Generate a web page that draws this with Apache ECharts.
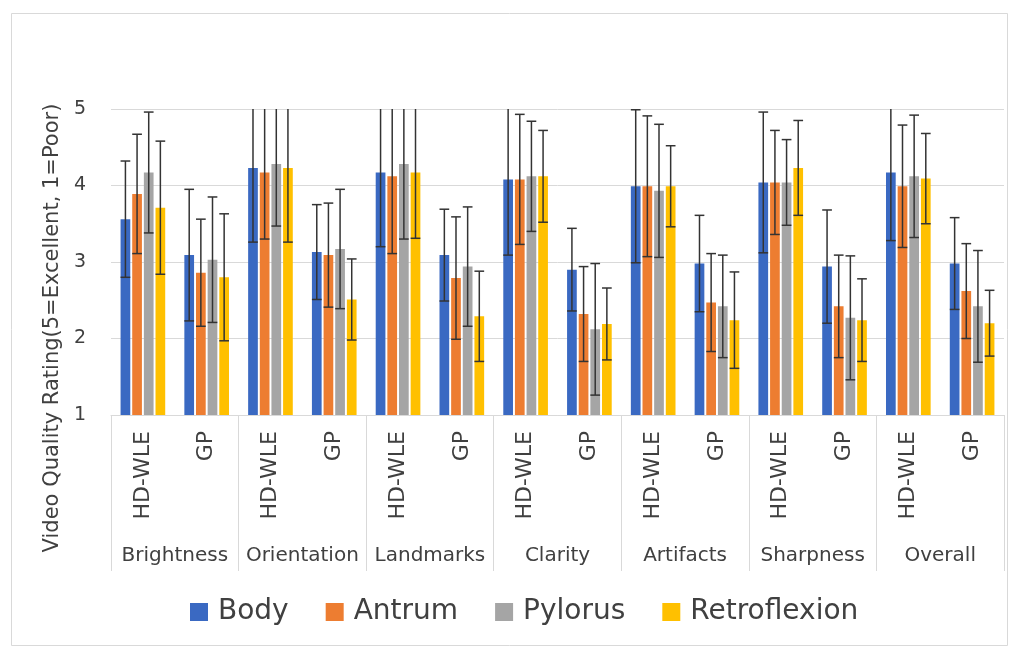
<!DOCTYPE html>
<html>
<head>
<meta charset="utf-8">
<script src="https://cdn.jsdelivr.net/npm/echarts@6/dist/echarts.min.js"></script>
<style>
html,body{margin:0;padding:0;background:#fff;}
#chart{width:1014px;height:649px;}
</style>
</head>
<body>
<div id="chart"></div>
<script>
// ---- data ----
var groups = ['Brightness','Orientation','Landmarks','Clarity','Artifacts','Sharpness','Overall'];
var subCategories = ['HD-WLE','GP','HD-WLE','GP','HD-WLE','GP','HD-WLE','GP','HD-WLE','GP','HD-WLE','GP','HD-WLE','GP'];
var seriesNames = ['Body','Antrum','Pylorus','Retroflexion'];
var yTicks = [1,2,3,4,5];

var bodyMean    = [3.56,3.09,4.23,3.13,4.17,3.09,4.08,2.90,3.99,2.98,4.04,2.94,4.17,2.98];
var bodySd      = [0.76,0.86,0.97,0.62,0.97,0.60,0.99,0.54,1.00,0.63,0.92,0.74,0.89,0.60];
var antrumMean  = [3.89,2.86,4.17,3.09,4.12,2.79,4.08,2.32,3.99,2.47,4.04,2.42,3.99,2.62];
var antrumSd    = [0.78,0.70,0.87,0.68,1.01,0.80,0.85,0.62,0.92,0.64,0.68,0.67,0.80,0.62];
var pylorusMean = [4.17,3.03,4.28,3.17,4.28,2.94,4.12,2.12,3.93,2.42,4.04,2.27,4.12,2.42];
var pylorusSd   = [0.79,0.82,0.81,0.78,0.98,0.78,0.72,0.86,0.87,0.67,0.56,0.81,0.80,0.73];
var retroMean   = [3.71,2.80,4.23,2.51,4.17,2.29,4.12,2.19,3.99,2.24,4.23,2.24,4.09,2.20];
var retroSd     = [0.87,0.83,0.97,0.53,0.86,0.59,0.60,0.47,0.53,0.63,0.62,0.54,0.59,0.43];

// ---- styling ----
var colors = ['#3a69c2','#ed7d31','#a5a5a5','#ffc000'];
var FONT = 'DejaVu Sans';
var CAT_GAP = 0.30, BAR_GAP = 0.20, N = 4;

var means = [bodyMean, antrumMean, pylorusMean, retroMean];
var sds = [bodySd, antrumSd, pylorusSd, retroSd];

var chart = echarts.init(document.getElementById('chart'));

var series = [];
seriesNames.forEach(function(name, si){
  series.push({
    type:'bar', name:name, xAxisIndex:0, yAxisIndex:0,
    data: means[si],
    barCategoryGap: (CAT_GAP*100)+'%', barGap: (BAR_GAP*100)+'%',
    itemStyle:{color:colors[si]},
    emphasis:{disabled:true}
  });
});
seriesNames.forEach(function(name, si){
  var d = means[si].map(function(m, i){ return [i, m - sds[si][i], m + sds[si][i]]; });
  series.push({
    type:'custom', name:name+' err', xAxisIndex:0, yAxisIndex:0, z:10,
    encode:{x:0, y:[1,2]},
    data:d,
    renderItem:function(params, api){
      var xi = api.value(0), lo = api.value(1), hi = api.value(2);
      var band = api.size([1,0])[0];
      var avail = band*(1-CAT_GAP);
      var bw = avail/(N + (N-1)*BAR_GAP);
      var off = -avail/2 + si*bw*(1+BAR_GAP) + bw/2;
      var pLo = api.coord([xi, lo]), pHi = api.coord([xi, hi]);
      var cs = params.coordSys;
      var x = pLo[0] + off, half = bw/2;
      var topY = pHi[1], clipped = false;
      if (topY < cs.y) { topY = cs.y; clipped = true; }
      var st = {stroke:'#333', lineWidth:1.5};
      var ch = [
        {type:'line', shape:{x1:x, y1:topY, x2:x, y2:pLo[1]}, style:st},
        {type:'line', shape:{x1:x-half, y1:pLo[1], x2:x+half, y2:pLo[1]}, style:st}
      ];
      if (!clipped) ch.push({type:'line', shape:{x1:x-half, y1:topY, x2:x+half, y2:topY}, style:st});
      return {type:'group', children:ch};
    }
  });
});

var option = {
  animation:false,
  backgroundColor:'#fff',
  grid:{left:111, right:10, top:109, bottom:234, containLabel:false},
  legend:{
    data:seriesNames, left:185, top:593, icon:'rect',
    itemWidth:18, itemHeight:18, itemGap:37,
    textStyle:{fontFamily:FONT, fontSize:28, color:'#404040', padding:[0,0,0,5]}
  },
  xAxis:[
    {
      type:'category', data:subCategories, position:'bottom',
      axisLine:{show:true, lineStyle:{color:'#d9d9d9', width:1}},
      axisTick:{show:false},
      axisLabel:{interval:0, rotate:90, margin:16, fontFamily:FONT, fontSize:22, color:'#404040'}
    },
    {
      type:'category', data:groups, position:'bottom', gridIndex:0,
      axisLine:{show:false},
      axisTick:{show:true, length:156, lineStyle:{color:'#d9d9d9', width:1}},
      axisLabel:{interval:0, margin:131, fontFamily:FONT, fontSize:20, color:'#404040'}
    }
  ],
  yAxis:{
    type:'value', min:yTicks[0], max:yTicks[yTicks.length-1], interval:1,
    axisLine:{show:false}, axisTick:{show:false},
    splitLine:{lineStyle:{color:'#d9d9d9', width:1}},
    axisLabel:{margin:25, fontFamily:FONT, fontSize:19, color:'#404040'}
  },
  graphic:[
    {type:'rect', left:9, top:11, shape:{width:996, height:632}, style:{fill:'none', stroke:'#d9d9d9', lineWidth:1}, silent:true, z:-1},
    {type:'text', x:53, y:328, rotation:Math.PI/2,
     style:{text:'Video Quality Rating(5=Excellent, 1=Poor)', fontFamily:FONT, fontSize:21, fill:'#404040', align:'center', verticalAlign:'middle'}}
  ],
  series:series
};
chart.setOption(option);
</script>
</body>
</html>
